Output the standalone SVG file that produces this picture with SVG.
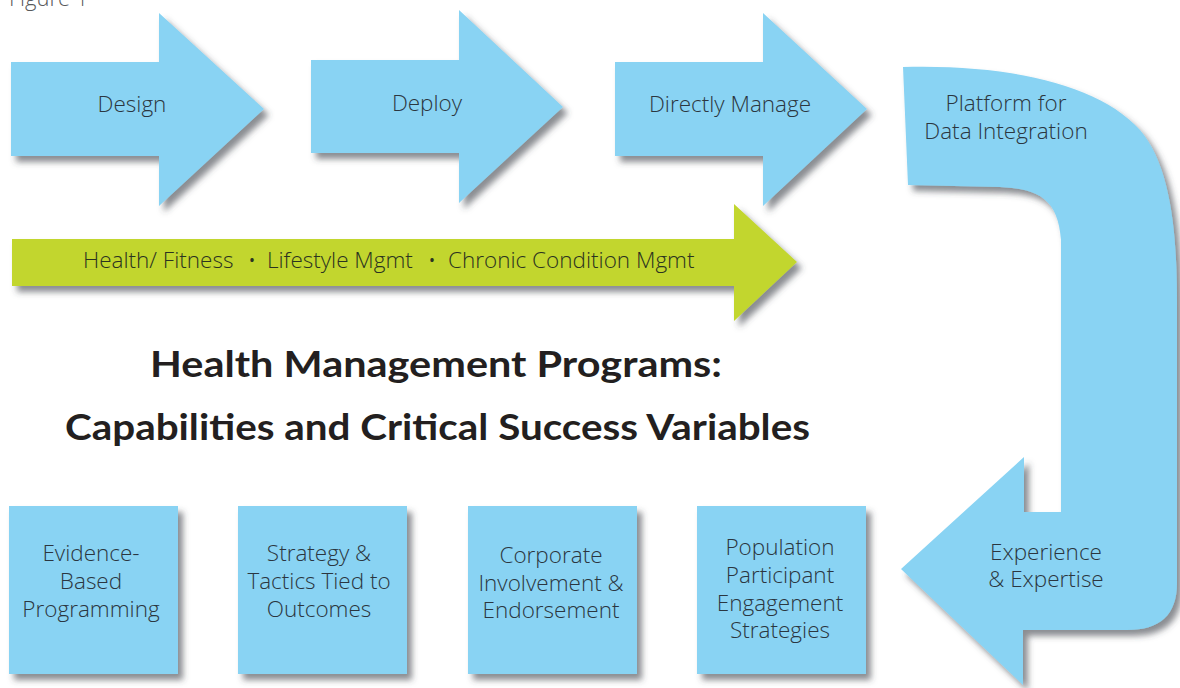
<svg xmlns="http://www.w3.org/2000/svg" width="1180" height="688" viewBox="0 0 1180 688">
  <defs>
    <filter id="drop" x="-10%" y="-10%" width="130%" height="130%">
      <feDropShadow dx="5" dy="6" stdDeviation="3" flood-color="#3c3f47" flood-opacity="0.6"/>
    </filter>
  </defs>
  <style>
    .blue { fill: #89d3f3; filter: url(#drop); }
    .green { fill: #c2d62e; filter: url(#drop); }
    .lbl { font-family: "Open Sans", "Noto Sans", "Liberation Sans", sans-serif; font-weight: 300; font-size: 22.5px; fill: #2b3640; text-anchor: middle; }
    .band { font-family: "Open Sans", "Noto Sans", "Liberation Sans", sans-serif; font-weight: 300; font-size: 22.5px; fill: #2b3320; }
    .title { font-family: Lato, "Open Sans", "Liberation Sans", sans-serif; font-weight: 700; font-size: 37px; fill: #231f20; text-anchor: middle; }
    .fig { font-family: "Open Sans", "Liberation Sans", sans-serif; font-weight: 300; font-size: 22px; fill: #58595b; }
  </style>

  <rect width="1180" height="688" fill="#ffffff"/>

  <text class="fig" x="9" y="6">Figure 1</text>

  <!-- top row of process arrows -->
  <g id="design">
    <path class="blue" d="M11,62 H159 V13 L264,109 L159,206 V156 H11 Z"/>
    <text class="lbl" x="132" y="112">Design</text>
  </g>
  <g id="deploy">
    <path class="blue" d="M311,60 H459 V10 L563,107 L459,203 V153 H311 Z"/>
    <text class="lbl" x="427" y="111">Deploy</text>
  </g>
  <g id="directly-manage">
    <path class="blue" d="M615,62 H763 V13 L867,109 L763,206 V156 H615 Z"/>
    <text class="lbl" x="730" y="112">Directly Manage</text>
  </g>

  <!-- programme band -->
  <g id="programs">
    <path class="green" d="M12,239 H734 V204 L797,262 L734,321 V286 H12 Z"/>
    <text class="band" x="83" y="268">Health/ Fitness</text>
    <text class="band" x="252" y="268" text-anchor="middle">•</text>
    <text class="band" x="267" y="268">Lifestyle Mgmt</text>
    <text class="band" x="432" y="268" text-anchor="middle">•</text>
    <text class="band" x="448" y="268">Chronic Condition Mgmt</text>
  </g>

  <!-- curved return arrow -->
  <g id="platform">
    <path class="blue" d="M903,67 C1010,64 1100,85 1140,130 C1170,165 1177,230 1177,300 L1177,583 C1177,615 1160,630 1127,630 L1023,630 L1023,685 L901,569 L1024,457 L1024,512 L1061,512 L1061,240 C1058,200 1040,189 1000,187 L908,185 Z"/>
    <text class="lbl" x="1006" y="111">Platform for</text>
    <text class="lbl" x="1006" y="139">Data Integration</text>
  </g>
  <g id="experience">
    <text class="lbl" x="1046" y="560">Experience</text>
    <text class="lbl" x="1046" y="587">&amp; Expertise</text>
  </g>

  <!-- heading -->
  <g id="heading">
    <text class="title" x="436" y="377" textLength="572" lengthAdjust="spacingAndGlyphs">Health Management Programs:</text>
    <text class="title" x="437.5" y="440" textLength="745" lengthAdjust="spacingAndGlyphs">Capabilities and Critical Success Variables</text>
  </g>

  <!-- success variables -->
  <g id="evidence">
    <rect class="blue" x="9" y="506" width="169" height="168"/>
    <text class="lbl" x="91" y="561">Evidence-</text>
    <text class="lbl" x="91" y="589">Based</text>
    <text class="lbl" x="91" y="617">Programming</text>
  </g>
  <g id="strategy">
    <rect class="blue" x="238" y="506" width="169" height="168"/>
    <text class="lbl" x="319" y="561">Strategy &amp;</text>
    <text class="lbl" x="319" y="589">Tactics Tied to</text>
    <text class="lbl" x="319" y="617">Outcomes</text>
  </g>
  <g id="corporate">
    <rect class="blue" x="468" y="506" width="169" height="168"/>
    <text class="lbl" x="551" y="563">Corporate</text>
    <text class="lbl" x="551" y="591">Involvement &amp;</text>
    <text class="lbl" x="551" y="618">Endorsement</text>
  </g>
  <g id="population">
    <rect class="blue" x="697" y="506" width="169" height="168"/>
    <text class="lbl" x="780" y="555">Population</text>
    <text class="lbl" x="780" y="583">Participant</text>
    <text class="lbl" x="780" y="611">Engagement</text>
    <text class="lbl" x="780" y="638">Strategies</text>
  </g>

  <g id="connectors"/>
</svg>
